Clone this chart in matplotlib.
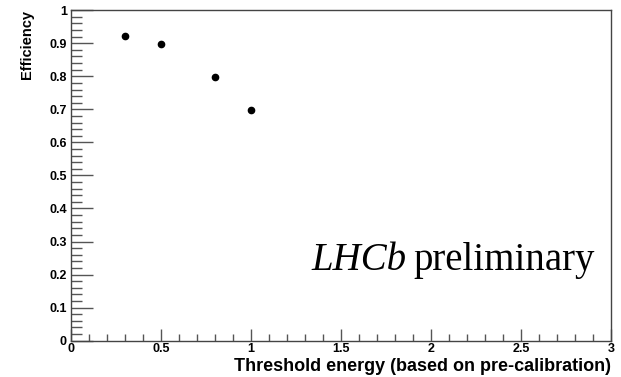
import matplotlib
matplotlib.use("Agg")
from matplotlib import pyplot as plt
from matplotlib.ticker import MultipleLocator, FormatStrFormatter

# threshold energy (pre-calibration) vs efficiency
threshold = [0.3, 0.5, 0.8, 1.0]
efficiency = [0.923, 0.898, 0.797, 0.699]
eff_err = [0.004, 0.004, 0.006, 0.006]

plt.rcParams['font.family'] = ['Liberation Sans', 'DejaVu Sans']

fig = plt.figure(figsize=(6.21, 3.77), dpi=100)
ax = fig.add_axes([0.1143, 0.0963, 0.8697, 0.8767])

ax.errorbar(threshold, efficiency, yerr=eff_err, fmt='o', color='black',
            markersize=4.5, elinewidth=1, capsize=0)

ax.set_xlim(0, 3)
ax.set_ylim(0, 1)
ax.xaxis.set_major_locator(MultipleLocator(0.5))
ax.xaxis.set_minor_locator(MultipleLocator(0.1))
ax.yaxis.set_major_locator(MultipleLocator(0.1))
ax.yaxis.set_minor_locator(MultipleLocator(0.02))
ax.xaxis.set_major_formatter(FormatStrFormatter('%g'))
ax.yaxis.set_major_formatter(FormatStrFormatter('%g'))
ax.tick_params(which='both', direction='in', color='#555555', labelsize=9)
ax.tick_params(axis='y', which='major', length=16, width=1, pad=3)
ax.tick_params(axis='y', which='minor', length=8, width=1)
ax.tick_params(axis='x', which='major', length=9, width=1, pad=2)
ax.tick_params(axis='x', which='minor', length=5, width=1)
for lab in ax.get_xticklabels() + ax.get_yticklabels():
    lab.set_fontweight('bold')
for sp in ax.spines.values():
    sp.set_color('#444444')
    sp.set_linewidth(1)

fig.text(0.984, 0.016, 'Threshold energy (based on pre-calibration)',
         ha='right', va='baseline', fontsize=13, fontweight='bold')
fig.text(0.044, 0.973, 'Efficiency', rotation=90, ha='center', va='top',
         fontsize=10.5, fontweight='bold')

prelim = ax.text(0.97, 0.214, 'preliminary', transform=ax.transAxes,
                 ha='right', va='baseline', fontsize=28,
                 family='Liberation Serif')
fig.canvas.draw()
bb = prelim.get_window_extent()
x_left = ax.transAxes.inverted().transform((bb.x0 - 7, bb.y0))[0]
ax.text(x_left, 0.214, 'LHCb', transform=ax.transAxes, ha='right',
        va='baseline', fontsize=28, family='Liberation Serif', style='italic')

fig.savefig('out.png', dpi=100)
